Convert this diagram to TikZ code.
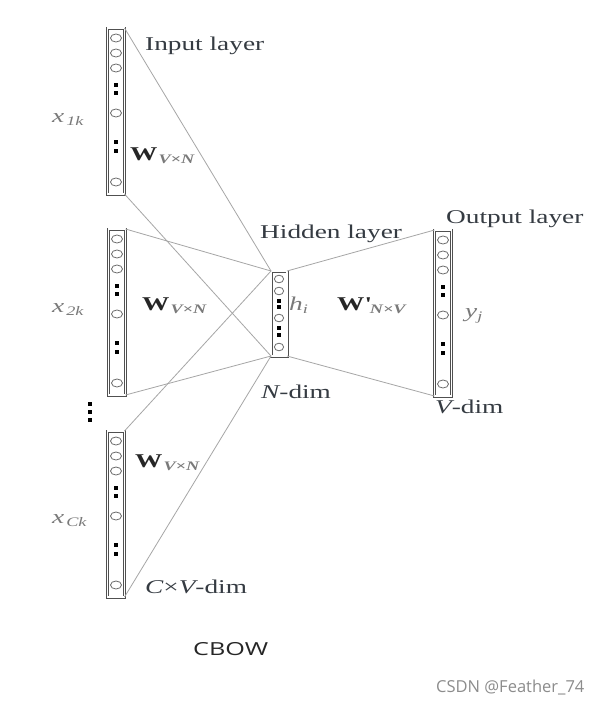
\documentclass[tikz,border=0pt]{standalone}
\usepackage{fontspec}
\newfontfamily\sr{Liberation Serif}[FakeStretch=1.4]
\newfontfamily\cb{Open Sans}[FakeStretch=1.4]
\newfontfamily\wmf{Open Sans}
\definecolor{boxc}{HTML}{505050}
\definecolor{circc}{HTML}{6A6A6A}
\definecolor{connc}{HTML}{A6A6A6}
\definecolor{txtc}{HTML}{353B42}
\definecolor{mathc}{HTML}{7A7A7A}
\definecolor{wmc}{HTML}{8C8C8C}
\tikzset{
  colbox/.style={draw=boxc, line width=0.7pt, double=white, double distance=1.6pt, inner sep=0pt, outer sep=0pt, minimum width=17pt},
  circ/.style={draw=circc, line width=0.8pt},
  conn/.style={draw=connc, line width=0.8pt},
  lbl/.style={inner sep=0pt, anchor=base west, font=\sr\fontsize{19.5}{22}\selectfont, text=txtc},
  mlbl/.style={inner sep=0pt, anchor=base west, font=\sr\fontsize{19.5}{22}\selectfont, text=mathc},
  wlbl/.style={inner sep=0pt, anchor=base west, font=\sr\fontsize{19.5}{22}\selectfont, text=black!85},
}
\newcommand\subs[1]{\raisebox{-3pt}{\fontsize{13}{14}\selectfont\color{mathc}\itshape #1}}
\newcommand\bigcol[3]{%
  \node[colbox, minimum height=166pt] (#1) at (#2,#3+83) {};
  \foreach \o in {10,25,40,85,154} \draw[circ] (#2,#3+\o) ellipse (5.5 and 4);
  \foreach \o in {57,65,114,123} \fill[black] (#2-1.8,#3+\o-1.8) rectangle ++(3.6,3.6);
}
\begin{document}
\begin{tikzpicture}[x=1pt,y=-1pt]
\useasboundingbox[fill=white] (0,0) rectangle (606,705);
% input columns
\bigcol{c1}{116}{28}
\bigcol{c2}{117}{229}
\bigcol{c3}{116}{431}
% output column
\bigcol{o}{443}{230}
% hidden column
\node[colbox, minimum height=85pt, minimum width=16pt] (h) at (279,313.5) {};
\foreach \o in {8,20,47,76} \draw[circ] (279,271+\o) ellipse (4.6 and 3.8);
\foreach \o in {30,36,57,64} \fill[black] (279-1.7,271+\o-1.7) rectangle ++(3.4,3.4);
% connectors
\draw[conn] (c1.north east) -- (h.north west);
\draw[conn] (c1.south east) -- (h.south west);
\draw[conn] (c2.north east) -- (h.north west);
\draw[conn] (c2.south east) -- (h.south west);
\draw[conn] (c3.north east) -- (h.north west);
\draw[conn] (c3.south east) -- (h.south west);
\draw[conn] (h.north east) -- (o.north west);
\draw[conn] (h.south east) -- (o.south west);
% vertical dots
\foreach \yy in {402,410,418} \fill[black] (88,\yy) rectangle ++(4,4);
% labels
\node[lbl] (tin) at (145,50) {Input layer};
\node[lbl] (thid) at (260,238) {Hidden layer};
\node[lbl] (tout) at (446,223) {Output layer};
\node[mlbl] (x1) at (52,122) {\itshape x\hspace{2pt}\subs{1k}};
\node[mlbl] (x2) at (52,312) {\itshape x\hspace{2pt}\subs{2k}};
\node[mlbl] (xc) at (52,523) {\itshape x\hspace{2pt}\subs{Ck}};
\node[wlbl] (w1) at (130,160) {\bfseries W\hspace{1pt}\subs{V×N}};
\node[wlbl] (w2) at (142,310) {\bfseries W\hspace{1pt}\subs{V×N}};
\node[wlbl] (w3) at (135,467) {\bfseries W\hspace{1pt}\subs{V×N}};
\node[wlbl] (wp) at (337,310) {\bfseries W\textquotesingle\subs{N×V}};
\node[mlbl] (hi) at (289,310) {\itshape h\subs{i}};
\node[mlbl] (yj) at (465,317) {\itshape y\subs{j}};
\node[lbl] (nd) at (261,398) {\itshape N\upshape -dim};
\node[lbl] (vd) at (435,413) {\itshape V\upshape -dim};
\node[lbl] (cvd) at (145,593) {\itshape C\upshape ×\itshape V\upshape -dim};
\node[inner sep=0pt, anchor=base west, font=\cb\fontsize{18}{20}\selectfont, text=black!85] (cbow) at (193,655) {CBOW};
\node[inner sep=0pt, anchor=base west, font=\wmf\fontsize{16.5}{18}\selectfont, text=wmc] (wm) at (436,692) {CSDN @Feather\_74};
\end{tikzpicture}
\end{document}
